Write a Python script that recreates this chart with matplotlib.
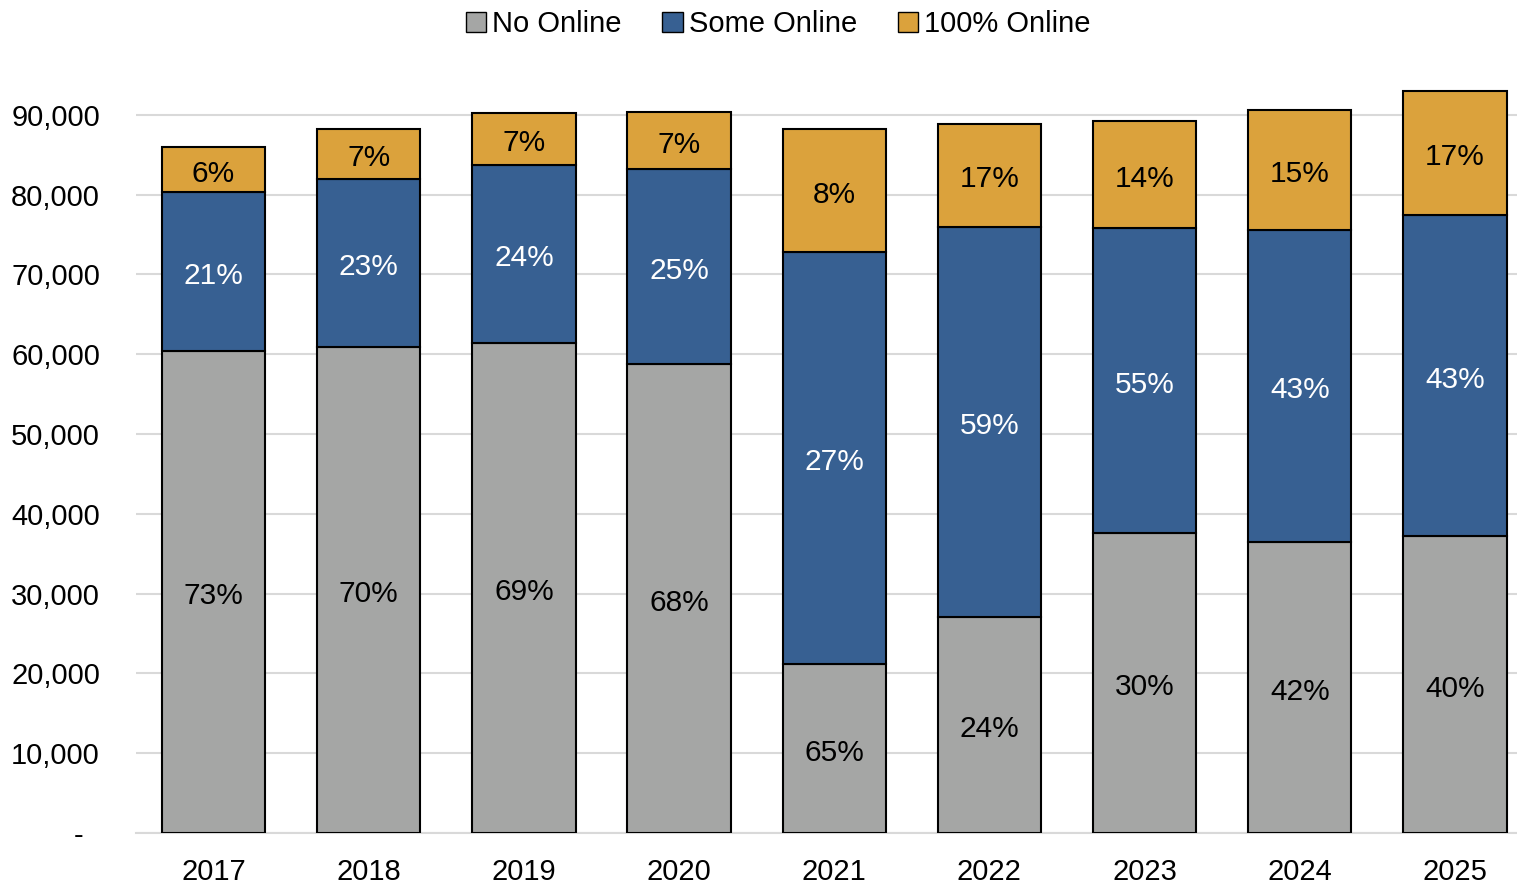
import matplotlib
matplotlib.use("Agg")
import matplotlib.pyplot as plt
from matplotlib.patches import Patch
from matplotlib.ticker import FuncFormatter

plt.rcParams['font.family'] = ['Liberation Sans', 'DejaVu Sans']

years = ["2017", "2018", "2019", "2020", "2021", "2022", "2023", "2024", "2025"]
no_online = [60400, 60900, 61400, 58800, 21200, 27100, 37600, 36500, 37200]
some_online = [19900, 21100, 22300, 24400, 51600, 48900, 38200, 39100, 40300]
full_online = [5700, 6200, 6500, 7200, 15400, 12900, 13400, 15000, 15500]

no_labels = ["73%", "70%", "69%", "68%", "65%", "24%", "30%", "42%", "40%"]
some_labels = ["21%", "23%", "24%", "25%", "27%", "59%", "55%", "43%", "43%"]
full_labels = ["6%", "7%", "7%", "7%", "8%", "17%", "14%", "15%", "17%"]

c_gray = "#A5A6A5"
c_blue = "#376092"
c_gold = "#DBA23C"

W, H = 1517, 884
fig = plt.figure(figsize=(W / 100, H / 100), dpi=100)
ax = fig.add_axes([136 / W, 51 / H, 1 - 136 / W, 758 / H])

x = range(len(years))
bw = 0.665
b1 = ax.bar(x, no_online, bw, color=c_gray, edgecolor="black", linewidth=1.5, zorder=3)
b2 = ax.bar(x, some_online, bw, bottom=no_online, color=c_blue, edgecolor="black", linewidth=1.5, zorder=3)
bottom3 = [a + b for a, b in zip(no_online, some_online)]
b3 = ax.bar(x, full_online, bw, bottom=bottom3, color=c_gold, edgecolor="black", linewidth=1.5, zorder=3)

# percentage labels, nudged a touch lower like the original
for bars, labs, col in ((b1, no_labels, "black"), (b2, some_labels, "white"), (b3, full_labels, "black")):
    ax.bar_label(bars, labels=labs, label_type="center", fontsize=21.5, color=col,
                 padding=-3, zorder=4)

ax.set_xlim(-0.5, 8.4)
ax.set_ylim(0, 95000)
ax.set_yticks(range(0, 90001, 10000))
ax.yaxis.set_major_formatter(FuncFormatter(lambda v, p: "-  " if v == 0 else f"{int(v):,}"))
ax.set_xticks(list(x))
ax.set_xticklabels(years)
ax.tick_params(axis="both", length=0, labelsize=21)
ax.tick_params(axis="y", pad=26)
ax.tick_params(axis="x", pad=18)
ax.grid(axis="y", color="#d9d9d9", linewidth=1.5, zorder=0)
for s in ["top", "right", "left"]:
    ax.spines[s].set_visible(False)
ax.spines["bottom"].set_color("#d9d9d9")
ax.spines["bottom"].set_linewidth(1.5)

handles = [Patch(facecolor=c, edgecolor="black", linewidth=1) for c in (c_gray, c_blue, c_gold)]
fig.legend(handles, ["No Online", "Some Online", "100% Online"], loc="upper center",
           bbox_to_anchor=(0.513, 1.018), ncol=3, frameon=False, fontsize=21,
           handlelength=0.7, handleheight=0.7, handletextpad=0.2, columnspacing=1.4)

fig.savefig("out.png", dpi=100)
